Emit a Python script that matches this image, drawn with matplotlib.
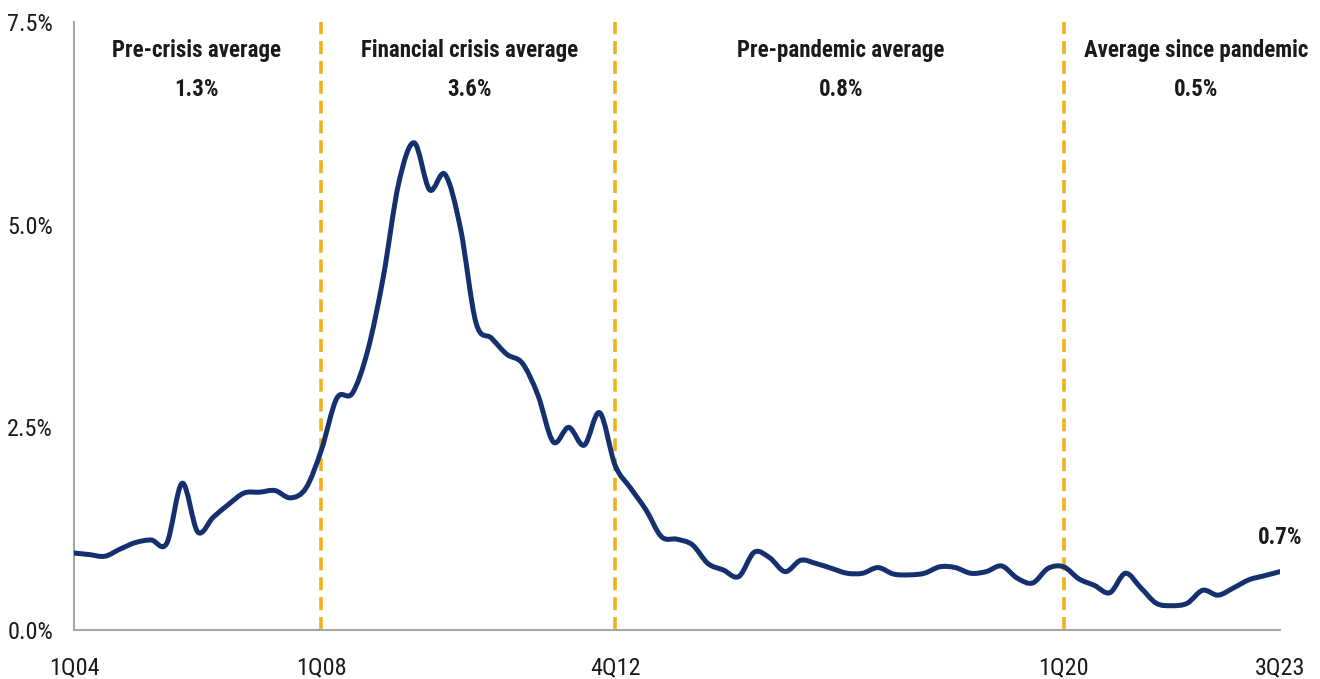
import matplotlib
matplotlib.use("Agg")
import matplotlib.pyplot as plt
from matplotlib.path import Path
from matplotlib.patches import PathPatch
from matplotlib import font_manager
import numpy as np

# ---- data ----
rates = [0.95, 0.93, 0.91, 1.00, 1.08, 1.11, 1.07, 1.81, 1.21, 1.39,
         1.55, 1.69, 1.70, 1.72, 1.63, 1.75, 2.22, 2.86, 2.92, 3.45,
         4.35, 5.51, 6.01, 5.43, 5.62, 4.95, 3.79, 3.60, 3.40, 3.29,
         2.90, 2.32, 2.50, 2.28, 2.68, 2.03, 1.75, 1.48, 1.15, 1.12,
         1.05, 0.82, 0.74, 0.66, 0.96, 0.89, 0.72, 0.86, 0.82, 0.76,
         0.70, 0.70, 0.77, 0.69, 0.68, 0.70, 0.78, 0.77, 0.70, 0.72,
         0.79, 0.64, 0.58, 0.76, 0.78, 0.63, 0.55, 0.46, 0.70, 0.52,
         0.33, 0.30, 0.33, 0.49, 0.43, 0.52, 0.62, 0.67, 0.72]
quarters = [f"{q}Q{str(y)[2:]}" for y in range(2004, 2024) for q in range(1, 5)][:len(rates)]
xtick_labels = ["1Q04", "1Q08", "4Q12", "1Q20", "3Q23"]
divider_labels = ["1Q08", "4Q12", "1Q20"]
period_titles = ["Pre-crisis average", "Financial crisis average",
                 "Pre-pandemic average", "Average since pandemic"]
period_values = ["1.3%", "3.6%", "0.8%", "0.5%"]
yticks = [0.0, 2.5, 5.0, 7.5]
last_label = "0.7%"

# ---- style ----
available = {f.name for f in font_manager.fontManager.ttflist}
fam = [f for f in ["Liberation Sans Narrow", "Roboto Condensed", "Open Sans Condensed",
                   "Liberation Sans", "DejaVu Sans"] if f in available]
plt.rcParams['font.family'] = fam
NAVY = "#15306e"
GOLD = "#f0b21c"
GRAY = "#a6a6a6"
TEXT = "#1a1a1a"

fig = plt.figure(figsize=(13.2, 6.79), dpi=100)
ax = fig.add_axes([74/1320, 49/679, (1280-74)/1320, (630-22)/679])

x = np.arange(len(rates))
y = np.array(rates)

# smooth spline path (cardinal Bezier) through the data points
verts = [(x[0], y[0])]
codes = [Path.MOVETO]
n = len(x)
for i in range(n - 1):
    p0 = np.array([x[max(i-1, 0)], y[max(i-1, 0)]])
    p1 = np.array([x[i], y[i]])
    p2 = np.array([x[i+1], y[i+1]])
    p3 = np.array([x[min(i+2, n-1)], y[min(i+2, n-1)]])
    c1 = p1 + (p2 - p0) / 6.0
    c2 = p2 - (p3 - p1) / 6.0
    verts += [tuple(c1), tuple(c2), tuple(p2)]
    codes += [Path.CURVE4] * 3
ax.add_patch(PathPatch(Path(verts, codes), facecolor="none", edgecolor=NAVY,
                       lw=3.6, capstyle="round", joinstyle="round", zorder=3))
ax.plot(x, y, lw=0, alpha=0)

for lab in divider_labels:
    xi = quarters.index(lab)
    ax.plot([xi, xi], [0, 7.5], color=GOLD, lw=2.6, dashes=(3.6, 1.9), zorder=2)

ax.set_xlim(0, n - 1)
ax.set_ylim(0, 7.5)
ax.set_yticks(yticks)
ax.set_yticklabels([f"{v:.1f}%" for v in yticks], fontsize=17.5, color=TEXT)
ax.set_xticks([quarters.index(l) for l in xtick_labels])
ax.set_xticklabels(xtick_labels, fontsize=17.5, color=TEXT)
ax.tick_params(axis='x', length=0, pad=19)
ax.tick_params(axis='y', length=0, pad=15)
for s in ["top", "right"]:
    ax.spines[s].set_visible(False)
for s in ["left", "bottom"]:
    ax.spines[s].set_color(GRAY)
    ax.spines[s].set_linewidth(1.5)

title_x = [7.9, 25.6, 49.6, 72.6]
for tx, t, v in zip(title_x, period_titles, period_values):
    ax.text(tx, 7.15, t, ha="center", va="center", fontsize=16.5, fontweight="bold", color=TEXT)
    ax.text(tx, 6.67, v, ha="center", va="center", fontsize=16.5, fontweight="bold", color=TEXT)

ax.text(n - 1, y[-1] + 0.42, last_label, ha="center", va="center", fontsize=16.5,
        fontweight="bold", color=TEXT, clip_on=False)

fig.savefig("out.png", dpi=100)
